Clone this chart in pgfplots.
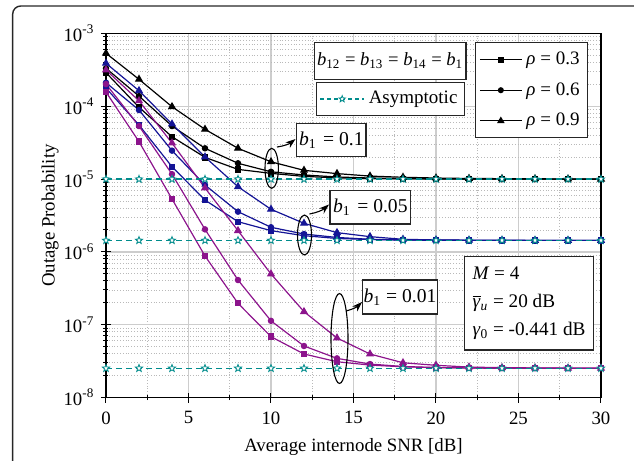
\documentclass[border=0pt]{standalone}
\usepackage{pgfplots}
\pgfplotsset{compat=1.18}
\usepackage{fontspec}
\setmainfont{Liberation Serif}
\usetikzlibrary{plotmarks,arrows.meta}
\definecolor{cblue}{RGB}{20,20,150}
\definecolor{cmag}{RGB}{140,20,140}
\definecolor{cteal}{RGB}{0,140,140}
\definecolor{gridmaj}{RGB}{205,205,205}
\definecolor{gridmin}{RGB}{185,185,185}
\newcommand{\fs}{\fontsize{9.4}{11}\selectfont}
\pgfdeclareplotmark{ostar}{%
  \pgfpathmoveto{\pgfpointpolar{90}{\pgfplotmarksize}}%
  \pgfpathlineto{\pgfpointpolar{126}{0.42\pgfplotmarksize}}%
  \pgfpathlineto{\pgfpointpolar{162}{\pgfplotmarksize}}%
  \pgfpathlineto{\pgfpointpolar{198}{0.42\pgfplotmarksize}}%
  \pgfpathlineto{\pgfpointpolar{234}{\pgfplotmarksize}}%
  \pgfpathlineto{\pgfpointpolar{270}{0.42\pgfplotmarksize}}%
  \pgfpathlineto{\pgfpointpolar{306}{\pgfplotmarksize}}%
  \pgfpathlineto{\pgfpointpolar{342}{0.42\pgfplotmarksize}}%
  \pgfpathlineto{\pgfpointpolar{18}{\pgfplotmarksize}}%
  \pgfpathlineto{\pgfpointpolar{54}{0.42\pgfplotmarksize}}%
  \pgfpathclose
  \pgfusepathqfillstroke}
\begin{document}
\fs
\begin{tikzpicture}[font=\fs]
\useasboundingbox (0,0) rectangle (317pt,-230.5pt);
\begin{axis}[
  at={(53pt,-198.75pt)}, anchor=south west,
  scale only axis, width=247.5pt, height=182pt,
  xmin=0, xmax=30, ymin=1e-8, ymax=1e-3, ymode=log,
  xtick={0,5,...,30}, minor x tick num=1,
  ytick={1e-8,1e-7,1e-6,1e-5,1e-4,1e-3},
  yticklabels={10\textsuperscript{-8},10\textsuperscript{-7},10\textsuperscript{-6},10\textsuperscript{-5},10\textsuperscript{-4},10\textsuperscript{-3}},
  grid=both,
  major grid style={gridmaj, line width=0.6pt},
  minor grid style={gridmin, densely dotted, line width=0.45pt},
  tick align=center, tick pos=left,
  major tick length=5pt, minor tick length=2.5pt,
  every tick/.style={black, line width=0.5pt},
  axis line style={line width=0.6pt},
  xlabel={Average internode SNR [dB]},
  ylabel={Outage Probability},
  tick label style={font=\fs},
  xticklabel style={yshift=-1.2pt},
  label style={font=\fs},
  ylabel style={yshift=-4pt},
  xlabel style={yshift=-0.5pt},
  /pgf/number format/assume math mode=true,
  legend style={at={(0.974,0.976)}, anchor=north east, draw=black!85, line width=0.6pt, fill=white, font=\fontsize{9.5}{11}\selectfont, row sep=3.6pt, inner xsep=2pt, inner ysep=2.5pt},
  legend cell align=left,
  legend image code/.code={\draw[mark repeat=2,mark phase=2] plot coordinates {(0pt,0pt) (10.5pt,0pt) (21pt,0pt)};},
]
\addlegendimage{black, line width=0.6pt, mark=square*, mark size=1.2pt}
\addlegendentry{\textit{ρ} = 0.3}
\addlegendimage{black, line width=0.6pt, mark=*, mark size=1.2pt}
\addlegendentry{\textit{ρ} = 0.6}
\addlegendimage{black, line width=0.6pt, mark=triangle*, mark size=1.6pt}
\addlegendentry{\textit{ρ} = 0.9}

% b1 = 0.1 (black)
\addplot[forget plot, black, line width=0.6pt, mark=square*, mark size=1.3pt] coordinates {
(0,2.90e-4) (2,9.7e-5) (4,3.82e-5) (6,1.99e-5) (8,1.36e-5) (10,1.20e-5) (12,1.09e-5) (14,1.04e-5)
(16,1.02e-5) (18,1.01e-5) (20,1.005e-5) (22,1.0e-5) (24,1.0e-5) (26,1.0e-5) (28,1.0e-5) (30,1.0e-5)};
\addplot[forget plot, black, line width=0.6pt, mark=*, mark size=1.3pt] coordinates {
(0,3.33e-4) (2,1.38e-4) (4,5.36e-5) (6,2.65e-5) (8,1.65e-5) (10,1.26e-5) (12,1.14e-5) (14,1.07e-5)
(16,1.035e-5) (18,1.02e-5) (20,1.01e-5) (22,1.005e-5) (24,1.0e-5) (26,1.0e-5) (28,1.0e-5) (30,1.0e-5)};
\addplot[forget plot, black, line width=0.6pt, mark=triangle*, mark size=1.8pt] coordinates {
(0,5.35e-4) (2,2.35e-4) (4,9.88e-5) (6,4.83e-5) (8,2.65e-5) (10,1.73e-5) (12,1.32e-5) (14,1.19e-5)
(16,1.10e-5) (18,1.06e-5) (20,1.035e-5) (22,1.02e-5) (24,1.015e-5) (26,1.01e-5) (28,1.005e-5) (30,1.0e-5)};
% b1 = 0.05 (blue)
\addplot[forget plot, cblue, line width=0.6pt, mark=square*, mark size=1.3pt] coordinates {
(0,1.78e-4) (2,5.53e-5) (4,1.48e-5) (6,5.16e-6) (8,2.60e-6) (10,1.96e-6) (12,1.67e-6) (14,1.53e-6)
(16,1.48e-6) (18,1.455e-6) (20,1.445e-6) (22,1.44e-6) (24,1.44e-6) (26,1.44e-6) (28,1.44e-6) (30,1.44e-6)};
\addplot[forget plot, cblue, line width=0.6pt, mark=*, mark size=1.3pt] coordinates {
(0,2.11e-4) (2,8.89e-5) (4,2.46e-5) (6,8.30e-6) (8,3.57e-6) (10,2.18e-6) (12,1.76e-6) (14,1.58e-6)
(16,1.49e-6) (18,1.46e-6) (20,1.45e-6) (22,1.44e-6) (24,1.44e-6) (26,1.44e-6) (28,1.44e-6) (30,1.44e-6)};
\addplot[forget plot, cblue, line width=0.6pt, mark=triangle*, mark size=1.8pt] coordinates {
(0,3.90e-4) (2,1.64e-4) (4,5.71e-5) (6,2.01e-5) (8,7.86e-6) (10,3.85e-6) (12,2.47e-6) (14,1.84e-6)
(16,1.62e-6) (18,1.49e-6) (20,1.46e-6) (22,1.45e-6) (24,1.445e-6) (26,1.44e-6) (28,1.44e-6) (30,1.44e-6)};
% b1 = 0.01 (magenta)
\addplot[forget plot, cmag, line width=0.6pt, mark=square*, mark size=1.3pt] coordinates {
(0,1.57e-4) (2,3.27e-5) (4,5.33e-6) (6,8.79e-7) (8,1.97e-7) (10,6.85e-8) (12,3.96e-8) (14,3.10e-8)
(16,2.79e-8) (18,2.64e-8) (20,2.57e-8) (22,2.54e-8) (24,2.52e-8) (26,2.52e-8) (28,2.52e-8) (30,2.52e-8)};
\addplot[forget plot, cmag, line width=0.6pt, mark=*, mark size=1.3pt] coordinates {
(0,2.02e-4) (2,5.36e-5) (4,1.17e-5) (6,2.04e-6) (8,4.11e-7) (10,1.13e-7) (12,5.10e-8) (14,3.45e-8)
(16,2.88e-8) (18,2.67e-8) (20,2.58e-8) (22,2.55e-8) (24,2.53e-8) (26,2.52e-8) (28,2.52e-8) (30,2.52e-8)};
\addplot[forget plot, cmag, line width=0.6pt, mark=triangle*, mark size=1.8pt] coordinates {
(0,3.15e-4) (2,1.19e-4) (4,3.13e-5) (6,7.55e-6) (8,1.96e-6) (10,4.97e-7) (12,1.51e-7) (14,6.57e-8)
(16,3.96e-8) (18,3.0e-8) (20,2.77e-8) (22,2.62e-8) (24,2.57e-8) (26,2.55e-8) (28,2.53e-8) (30,2.52e-8)};
% asymptotic
\addplot[forget plot, cteal, line width=0.65pt, dash pattern=on 3pt off 2pt, mark=ostar, mark size=1.9pt, mark options={solid, fill=white, line width=0.4pt}] coordinates {
(0,1e-5) (2,1e-5) (4,1e-5) (6,1e-5) (8,1e-5) (10,1e-5) (12,1e-5) (14,1e-5)
(16,1e-5) (18,1e-5) (20,1e-5) (22,1e-5) (24,1e-5) (26,1e-5) (28,1e-5) (30,1e-5)};
\addplot[forget plot, cteal, line width=0.65pt, dash pattern=on 3pt off 2pt, mark=ostar, mark size=1.9pt, mark options={solid, fill=white, line width=0.4pt}] coordinates {
(0,1.44e-6) (2,1.44e-6) (4,1.44e-6) (6,1.44e-6) (8,1.44e-6) (10,1.44e-6) (12,1.44e-6) (14,1.44e-6)
(16,1.44e-6) (18,1.44e-6) (20,1.44e-6) (22,1.44e-6) (24,1.44e-6) (26,1.44e-6) (28,1.44e-6) (30,1.44e-6)};
\addplot[forget plot, cteal, line width=0.65pt, dash pattern=on 3pt off 2pt, mark=ostar, mark size=1.9pt, mark options={solid, fill=white, line width=0.4pt}] coordinates {
(0,2.52e-8) (2,2.52e-8) (4,2.52e-8) (6,2.52e-8) (8,2.52e-8) (10,2.52e-8) (12,2.52e-8) (14,2.52e-8)
(16,2.52e-8) (18,2.52e-8) (20,2.52e-8) (22,2.52e-8) (24,2.52e-8) (26,2.52e-8) (28,2.52e-8) (30,2.52e-8)};
\end{axis}

\begin{axis}[
  at={(53pt,-198.75pt)}, anchor=south west,
  scale only axis, width=247.5pt, height=182pt,
  hide axis, xmin=0, xmax=1, ymin=0, ymax=1,
  legend style={at={(0.4242,0.8676)}, anchor=north west, draw=black!85, line width=0.6pt, fill=white, font=\fontsize{9.5}{11}\selectfont, inner xsep=1.5pt, inner ysep=2.5pt},
  legend image code/.code={\draw[mark repeat=2,mark phase=2] plot coordinates {(0pt,0pt) (11pt,0pt) (22pt,0pt)};},
]
\addlegendimage{cteal, line width=0.6pt, dash pattern=on 2pt off 1.5pt, mark=ostar, mark size=1.7pt, mark options={solid, fill=white, line width=0.4pt}}
\addlegendentry{Asymptotic}
\end{axis}

\begin{scope}[x=0.5pt,y=-0.5pt]
\draw[black!85, line width=0.7pt, rounded corners=4pt] (12.7,480) -- (12.7,6) -- (660,6);
\node[draw=black!85, line width=0.6pt, fill=white, minimum width=75.85pt, minimum height=18.5pt, inner sep=0pt, font=\fontsize{9.3}{11}\selectfont] at (390.15,60.8)
  {\textit{b}\textsubscript{12} = \textit{b}\textsubscript{13} = \textit{b}\textsubscript{14} = \textit{b}\textsubscript{1}};
\node[draw=black!85, line width=0.6pt, fill=white, minimum width=34.65pt, minimum height=16.7pt, inner sep=0pt, font=\fontsize{9.8}{11}\selectfont] at (331.35,140)
  {\textit{b}\textsubscript{1}\,\,= 0.1};
\node[draw=black!85, line width=0.6pt, fill=white, minimum width=40.35pt, minimum height=16.75pt, inner sep=0pt, font=\fontsize{9.8}{11}\selectfont] at (370.35,207.25)
  {\textit{b}\textsubscript{1}\,\,= 0.05};
\node[draw=black!85, line width=0.6pt, fill=white, minimum width=37.3pt, minimum height=17pt, inner sep=0pt, font=\fontsize{9.8}{11}\selectfont] at (400,297)
  {\textit{b}\textsubscript{1} = 0.01};
\node[draw=black!85, line width=0.6pt, fill=white, minimum width=63.3pt, minimum height=46.65pt, inner xsep=4pt, align=left, font=\fontsize{9.6}{14}\selectfont] at (529,303.35)
  {\textit{M} = 4\\$\overline{\mbox{\textit{γ}}}$\textsubscript{\textit{u}} = 20 dB\\\textit{γ}\textsubscript{0} = -0.441 dB};
\draw[line width=0.55pt] (271.7,168.3) ellipse [x radius=6.7, y radius=20];
\draw[line width=0.55pt] (304.5,235) ellipse [x radius=7, y radius=20];
\draw[line width=0.55pt] (339.5,338.5) ellipse [x radius=8.5, y radius=45];
\draw[line width=0.55pt, -{Stealth[length=5pt,width=3.5pt]}] (277,147) to[bend right=15] (295.5,139);
\draw[line width=0.55pt, -{Stealth[length=5pt,width=3.5pt]}] (309.5,214) to[bend right=15] (329,204.5);
\draw[line width=0.55pt, -{Stealth[length=5pt,width=3.5pt]}] (346,311) to[bend right=15] (362,302);
\end{scope}
\end{tikzpicture}
\end{document}
